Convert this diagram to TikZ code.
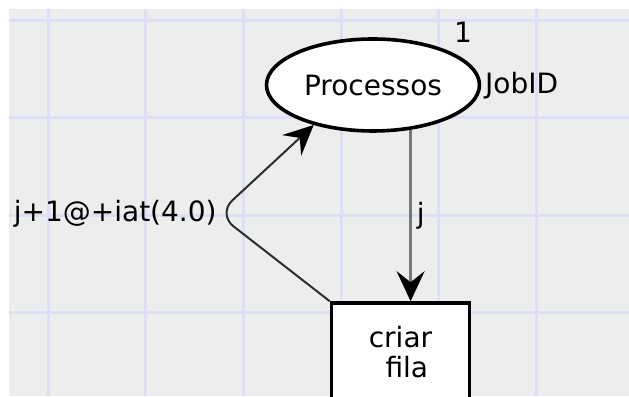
\documentclass[tikz,border=0pt]{standalone}
\usepackage{fontspec}
\setmainfont{DejaVu Sans}
\usepackage{tikz}
\usetikzlibrary{arrows.meta,calc,shapes.geometric}
\definecolor{canvasgray}{RGB}{237,237,237}
\definecolor{gridlav}{RGB}{222,222,248}
\definecolor{arcgray}{RGB}{120,120,120}
\definecolor{arcdark}{RGB}{45,45,45}
\tikzset{
  place/.style={ellipse, draw=black, line width=3.6pt, fill=white, inner sep=0pt,
    minimum width=7.486cm, minimum height=3.233cm},
  transition/.style={rectangle, draw=black, line width=3.6pt, fill=white, align=center,
    minimum width=4.850cm, minimum height=3.444cm},
  gridline/.style={gridlav, line width=3pt},
  arctip/.style={-{Stealth[length=30pt,width=28pt,inset=11pt,color=black]}},
  inscr/.style={inner sep=0pt, text=black}
}
\begin{document}
\begin{tikzpicture}[font=\fontsize{28}{30}\selectfont]
\useasboundingbox (0cm,0cm) rectangle (22.107cm,-13.918cm);
\fill[white] (0cm,0cm) rectangle (22.107cm,-13.918cm);
\fill[canvasgray] (0.316cm,-0.316cm) rectangle (22.107cm,-13.918cm);
\foreach \k in {0,...,5}
  \draw[gridline] ({1.687cm+\k*3.434cm},-0.316cm) -- ({1.687cm+\k*3.434cm},-13.918cm);
\foreach \k in {0,...,3}
  \draw[gridline] (0.316cm,{-0.703cm-\k*3.427cm}) -- (22.107cm,{-0.703cm-\k*3.427cm});
\node[place] (proc) at (13.109cm,-2.987cm) {Processos};
\node[transition] (trans) at (14.076cm,-12.371cm) {criar\\\hspace*{0.45em}fila};
\node[inscr] (init) at (16.273cm,-1.125cm) {1};
\node[inscr, anchor=west] (colset) at (17.046cm,-3.022cm) {JobID};
\coordinate (bend) at (7.65cm,-7.521cm);
\draw[arcgray, line width=2.6pt, arctip] (proc.-50) -- node[inscr, right, xshift=5pt] (jlab) {j} (proc.-50 |- trans.north);
\draw[arcdark, line width=2pt, rounded corners=20pt, arctip] (trans.north west) -- (bend) -- (proc.214);
\node[inscr, anchor=east] (delay) at ($(bend)+(-0.03cm,0cm)$) {j+1@+iat(4.0)};
\end{tikzpicture}
\end{document}
